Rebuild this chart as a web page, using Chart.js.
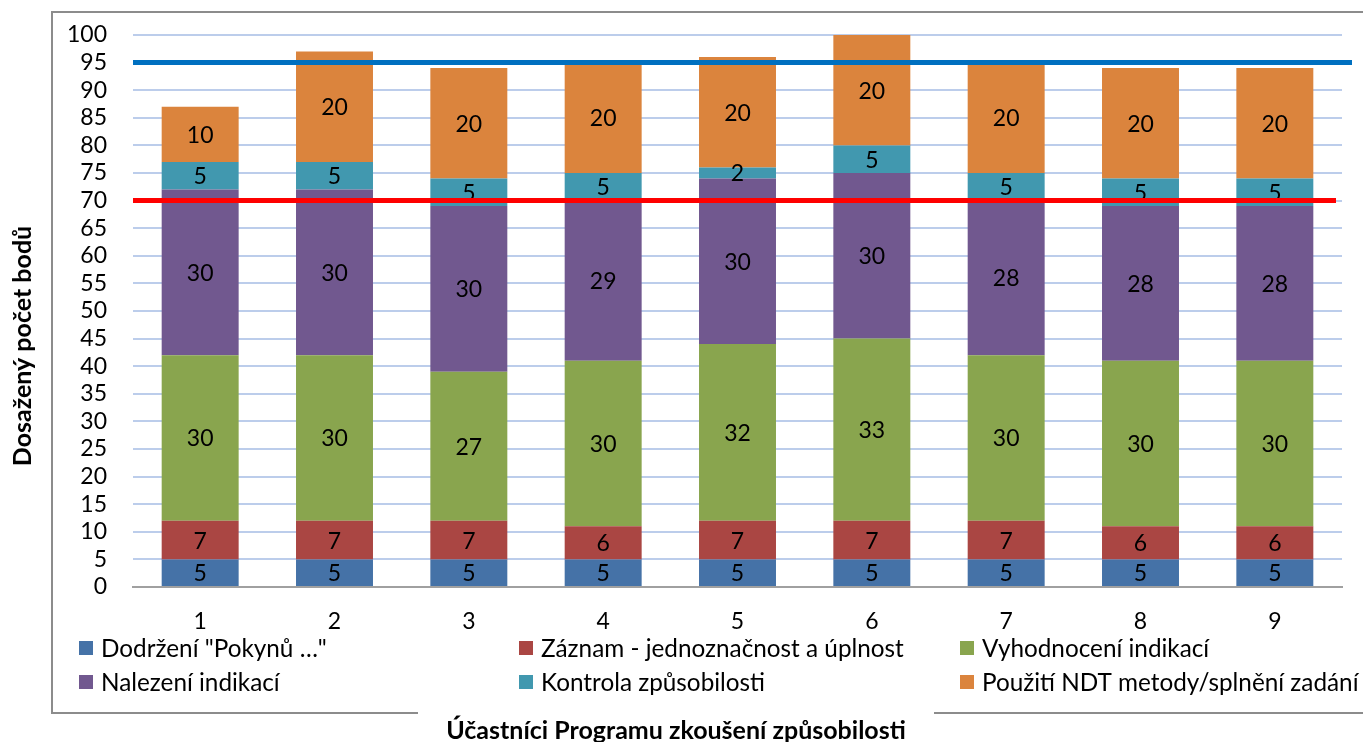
<!DOCTYPE html>
<html>
<head>
<meta charset="utf-8">
<script src="https://cdn.jsdelivr.net/npm/chart.js@4/dist/chart.umd.min.js"></script>
<style>
  body { margin: 0; background: #fff; }
  #wrap { width: 1363px; height: 742px; position: relative; }
</style>
</head>
<body>
<div id="wrap"><canvas id="chart" width="1363" height="742"></canvas></div>
<script>
// categories = participants
var participants = ["1", "2", "3", "4", "5", "6", "7", "8", "9"];

var seriesNames = [
  "Dodržení \"Pokynů …\"",
  "Záznam - jednoznačnost a úplnost",
  "Vyhodnocení indikací",
  "Nalezení indikací",
  "Kontrola způsobilosti",
  "Použití NDT metody/splnění zadání"
];

var dodrzeni    = [5, 5, 5, 5, 5, 5, 5, 5, 5];
var zaznam      = [7, 7, 7, 6, 7, 7, 7, 6, 6];
var vyhodnoceni = [30, 30, 27, 30, 32, 33, 30, 30, 30];
var nalezeni    = [30, 30, 30, 29, 30, 30, 28, 28, 28];
var kontrola    = [5, 5, 5, 5, 2, 5, 5, 5, 5];
var pouziti     = [10, 20, 20, 20, 20, 20, 20, 20, 20];

// limit lines (blue = 95, red = 70)
var limitValues = [95, 70];

var colors = ["#4572a7", "#aa4643", "#89a54e", "#71588f", "#4198af", "#db843d"];
var limitColors = ["#0070c0", "#ff0000"];
var limitRightEnd = [1352, 1336];

var FONT = "Lato, 'Open Sans', sans-serif";

var allSeries = [dodrzeni, zaznam, vyhodnoceni, nalezeni, kontrola, pouziti];
var datasets = [];
for (var i = 0; i < allSeries.length; i++) {
  datasets.push({
    label: seriesNames[i],
    data: allSeries[i],
    backgroundColor: colors[i],
    borderWidth: 0,
    categoryPercentage: 1,
    barPercentage: 0.573
  });
}

var decorPlugin = {
  id: "decor",
  beforeDraw: function(chart) {
    var ctx = chart.ctx;
    ctx.save();
    ctx.fillStyle = "#fff";
    ctx.fillRect(0, 0, chart.width, chart.height);
    // outer frame (bottom edge broken by the axis title)
    ctx.strokeStyle = "#8c8c8c";
    ctx.lineWidth = 2;
    ctx.beginPath();
    ctx.moveTo(1363, 12); ctx.lineTo(52, 12); ctx.lineTo(52, 713); ctx.lineTo(418, 713);
    ctx.moveTo(934, 713); ctx.lineTo(1363, 713);
    ctx.stroke();
    ctx.restore();
  },
  afterDatasetsDraw: function(chart) {
    var ctx = chart.ctx;
    ctx.save();
    // value labels in the segments
    ctx.font = "23px " + FONT;
    ctx.fillStyle = "#000";
    ctx.textAlign = "center";
    ctx.textBaseline = "middle";
    chart.data.datasets.forEach(function(ds, di) {
      var meta = chart.getDatasetMeta(di);
      meta.data.forEach(function(el, j) {
        var v = ds.data[j];
        if (!v) return;
        ctx.fillText(String(v), el.x, (el.y + el.base) / 2 + 1);
      });
    });
    // limit lines
    var y = chart.scales.y;
    var left = chart.chartArea.left;
    for (var k = 0; k < limitValues.length; k++) {
      var py = y.getPixelForValue(limitValues[k]);
      ctx.strokeStyle = limitColors[k];
      ctx.lineWidth = 5;
      ctx.beginPath();
      ctx.moveTo(left, py);
      ctx.lineTo(limitRightEnd[k], py);
      ctx.stroke();
    }
    ctx.restore();
  },
  afterDraw: function(chart) {
    var ctx = chart.ctx;
    ctx.save();
    // legend, 3 columns x 2 rows
    var colX = [79, 519, 960];
    var rowY = [648, 682];
    ctx.font = "24.3px " + FONT;
    ctx.textBaseline = "middle";
    ctx.textAlign = "left";
    chart.data.datasets.forEach(function(ds, i) {
      var cx = colX[i % 3], cy = rowY[Math.floor(i / 3)];
      ctx.fillStyle = ds.backgroundColor;
      ctx.fillRect(cx, cy - 7, 14, 14);
      ctx.fillStyle = "#000";
      ctx.fillText(ds.label, cx + 22, cy + 1);
    });
    // axis titles
    ctx.font = "bold 25px " + FONT;
    ctx.textAlign = "center";
    ctx.fillText("Účastníci Programu zkoušení způsobilosti", 676, 731);
    ctx.translate(23, 346);
    ctx.rotate(-Math.PI / 2);
    ctx.fillText("Dosažený počet bodů", 0, 0);
    ctx.restore();
  }
};

var ctx = document.getElementById("chart");
var chart = new Chart(ctx, {
  type: "bar",
  data: { labels: participants, datasets: datasets },
  plugins: [decorPlugin],
  options: {
    responsive: false,
    animation: false,
    devicePixelRatio: 1,
    layout: { padding: { top: 35, right: 21, left: 0, bottom: 0 } },
    plugins: {
      legend: { display: false },
      title: { display: false },
      tooltip: { enabled: false }
    },
    scales: {
      x: {
        stacked: true,
        grid: { display: false, drawTicks: false },
        border: { display: true, color: "#a0a0a0", width: 2 },
        ticks: { color: "#000", font: { family: FONT, size: 23 }, padding: 21 },
        afterFit: function(s) { s.height = 155; }
      },
      y: {
        stacked: true,
        min: 0,
        max: 100,
        grid: {
          drawTicks: false,
          lineWidth: 2,
          color: function(c) { return c.tick && c.tick.value === 0 ? "rgba(0,0,0,0)" : "#bccdeb"; }
        },
        border: { display: false },
        ticks: { stepSize: 5, autoSkip: false, color: "#000", font: { family: FONT, size: 23 }, padding: 26 },
        afterFit: function(s) { s.width = 133; s.paddingTop = 0; s.paddingBottom = 0; }
      }
    }
  }
});
</script>
</body>
</html>
